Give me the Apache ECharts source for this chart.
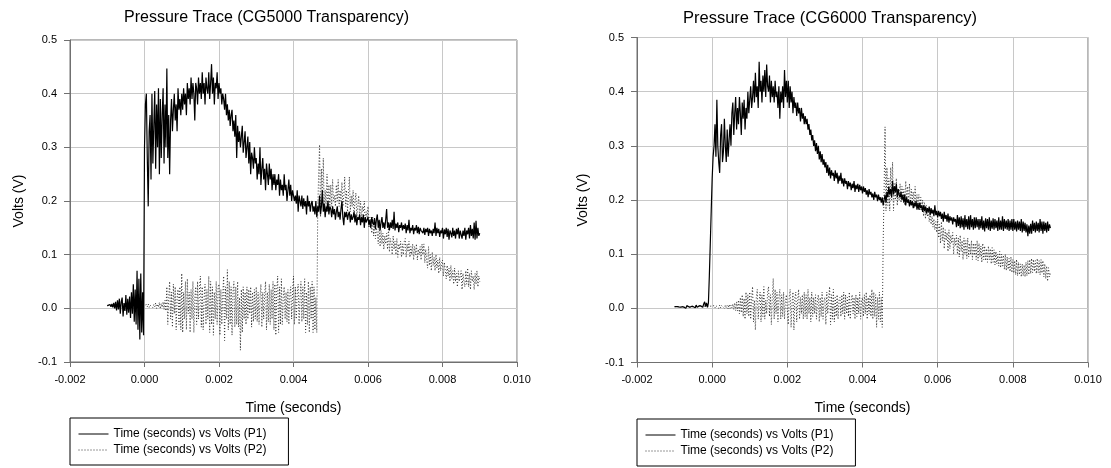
<!DOCTYPE html>
<html><head><meta charset="utf-8">
<script src="https://cdn.jsdelivr.net/npm/echarts@6/dist/echarts.min.js"></script>
<style>html,body{margin:0;padding:0;background:#fff}#c{width:1111px;height:468px}</style>
</head><body><div id="c"></div>
<script>
// sample times: start and step (seconds)
const timeStart = -0.001;
const timeStep = 0.000025;

const xTickLabels = ['-0.002','0.000','0.002','0.004','0.006','0.008','0.010'];
const yTickLabels = ['-0.1','0.0','0.1','0.2','0.3','0.4','0.5'];
const titles = ['Pressure Trace (CG5000 Transparency)', 'Pressure Trace (CG6000 Transparency)'];
const seriesNames = ['Time (seconds) vs Volts (P1)', 'Time (seconds) vs Volts (P2)'];

// CG5000, P1 (volts), one row = 0.0005 s
const cg5000P1 = [
0.005,0.006,0.004,0.007,0.003,0.008,0.002,0.010,0.000,0.012,-0.004,0.015,-0.002,0.018,-0.010,0.012,0.020,-0.015,0.010,-0.005,
0.025,-0.012,0.018,-0.008,0.022,-0.018,0.030,-0.010,0.045,-0.025,0.035,-0.030,0.070,-0.040,0.055,-0.058,0.065,-0.045,0.030,-0.050,
0.30,0.38,0.40,0.28,0.19,0.33,0.36,0.24,0.40,0.27,0.34,0.405,0.26,0.38,0.30,0.41,0.25,0.39,0.28,0.36,
0.41,0.27,0.38,0.30,0.447,0.28,0.36,0.25,0.35,0.39,0.33,0.37,0.40,0.35,0.38,0.33,0.41,0.37,0.39,0.36,
0.40,0.37,0.41,0.38,0.40,0.36,0.42,0.39,0.41,0.38,0.43,0.39,0.42,0.40,0.35,0.42,0.41,0.38,0.43,0.40,
0.42,0.39,0.44,0.40,0.42,0.38,0.43,0.41,0.40,0.44,0.39,0.42,0.455,0.40,0.43,0.38,0.42,0.41,0.44,0.39,
0.42,0.40,0.41,0.38,0.40,0.39,0.37,0.40,0.36,0.38,0.35,0.37,0.34,0.36,0.37,0.33,0.35,0.32,0.36,0.28,
0.34,0.31,0.33,0.30,0.32,0.34,0.29,0.31,0.33,0.28,0.30,0.32,0.27,0.31,0.25,0.29,0.28,0.26,0.30,0.27,
0.28,0.24,0.27,0.25,0.30,0.23,0.26,0.28,0.24,0.26,0.22,0.27,0.25,0.23,0.27,0.24,0.26,0.22,0.25,0.23,
0.25,0.22,0.24,0.23,0.25,0.21,0.24,0.22,0.23,0.21,0.25,0.22,0.23,0.20,0.22,0.24,0.21,0.23,0.20,0.22,
0.22,0.20,0.21,0.195,0.22,0.18,0.21,0.20,0.19,0.21,0.185,0.205,0.19,0.20,0.175,0.21,0.19,0.20,0.18,0.195,
0.20,0.18,0.19,0.175,0.20,0.17,0.19,0.18,0.21,0.175,0.19,0.22,0.18,0.195,0.17,0.19,0.18,0.20,0.175,0.19,
0.185,0.17,0.19,0.175,0.185,0.165,0.18,0.19,0.17,0.18,0.165,0.185,0.20,0.17,0.155,0.18,0.17,0.18,0.165,0.175,
0.18,0.16,0.175,0.165,0.17,0.18,0.16,0.175,0.155,0.17,0.165,0.175,0.155,0.17,0.16,0.175,0.15,0.17,0.16,0.165,
0.17,0.155,0.165,0.15,0.17,0.16,0.155,0.168,0.148,0.165,0.175,0.15,0.165,0.145,0.16,0.17,0.15,0.16,0.148,0.165,
0.185,0.15,0.16,0.145,0.16,0.15,0.165,0.148,0.18,0.145,0.158,0.15,0.16,0.142,0.155,0.15,0.16,0.145,0.155,0.148,
0.158,0.14,0.155,0.145,0.165,0.14,0.15,0.145,0.155,0.138,0.15,0.145,0.155,0.14,0.152,0.138,0.15,0.145,0.148,0.14,
0.15,0.137,0.148,0.142,0.15,0.135,0.148,0.14,0.145,0.135,0.148,0.14,0.16,0.135,0.15,0.14,0.148,0.133,0.145,0.14,
0.15,0.13,0.147,0.138,0.15,0.133,0.148,0.128,0.145,0.14,0.132,0.15,0.135,0.145,0.13,0.148,0.138,0.15,0.13,0.145,
0.148,0.13,0.145,0.135,0.15,0.128,0.145,0.138,0.15,0.13,0.155,0.135,0.148,0.13,0.16,0.128,0.163,0.13,0.15,0.135,
0.14
];
// CG5000, P2
const cg5000P2 = [
0.005,0.004,0.006,0.005,0.004,0.006,0.005,0.005,0.004,0.006,0.005,0.006,0.004,0.005,0.006,0.004,0.005,0.006,0.004,0.005,
0.005,0.006,0.004,0.005,0.006,0.004,0.005,0.006,0.004,0.005,0.006,0.004,0.005,0.006,0.004,0.005,0.006,0.004,0.005,0.005,
0.006,0.004,0.007,0.003,0.008,0.002,0.006,0.004,0.009,0.001,0.007,0.003,0.010,0.000,0.008,0.002,0.011,-0.001,0.009,0.002,
0.012,-0.002,0.015,-0.005,0.04,-0.03,0.02,0.05,-0.02,0.03,-0.035,0.045,-0.01,0.04,-0.04,0.02,0.035,-0.03,0.04,-0.04,
0.065,-0.045,0.03,-0.02,0.05,-0.04,0.055,-0.01,0.03,-0.045,0.035,-0.02,0.05,-0.045,0.02,0.04,-0.03,0.05,-0.02,0.035,
0.06,-0.035,0.04,-0.04,0.02,0.045,-0.03,0.035,-0.02,0.06,-0.045,0.05,-0.03,0.04,-0.05,0.03,-0.02,0.05,-0.03,0.04,
0.045,-0.05,0.035,-0.03,0.025,0.06,-0.06,0.04,-0.02,0.072,-0.04,0.05,-0.03,0.04,-0.05,0.03,0.05,-0.035,0.04,-0.03,
0.05,-0.035,0.02,-0.078,0.035,-0.045,0.04,-0.02,0.03,-0.03,0.04,-0.02,0.035,-0.01,0.04,-0.035,0.03,-0.025,0.035,-0.02,
0.04,-0.025,0.03,-0.03,0.02,0.045,-0.035,0.03,-0.02,0.025,0.05,-0.04,0.03,-0.025,0.045,-0.03,0.035,-0.02,0.05,-0.04,
0.045,-0.05,0.035,0.06,-0.045,0.04,-0.03,0.055,-0.03,0.02,0.04,-0.02,0.03,-0.025,0.035,-0.03,0.025,0.04,-0.02,0.03,
0.06,-0.03,0.04,-0.02,0.03,0.045,-0.03,0.02,0.05,-0.025,0.04,-0.02,0.055,-0.045,0.03,-0.03,0.05,-0.045,0.04,-0.02,
0.05,-0.045,0.04,-0.04,0.02,-0.045,0.18,0.25,0.305,0.17,0.26,0.20,0.28,0.18,0.22,0.19,0.25,0.18,0.23,0.19,
0.23,0.19,0.24,0.20,0.21,0.19,0.23,0.20,0.24,0.19,0.22,0.20,0.235,0.19,0.21,0.245,0.19,0.22,0.18,0.21,
0.245,0.18,0.21,0.19,0.22,0.17,0.20,0.215,0.17,0.19,0.21,0.17,0.20,0.165,0.19,0.18,0.20,0.16,0.18,0.17,
0.19,0.15,0.17,0.16,0.14,0.17,0.135,0.16,0.13,0.15,0.14,0.12,0.155,0.115,0.145,0.12,0.14,0.11,0.135,0.12,
0.14,0.11,0.15,0.105,0.13,0.12,0.10,0.135,0.11,0.125,0.10,0.13,0.095,0.12,0.11,0.125,0.095,0.12,0.10,0.125,
0.13,0.095,0.12,0.105,0.125,0.095,0.115,0.10,0.12,0.09,0.115,0.10,0.12,0.09,0.11,0.10,0.115,0.09,0.12,0.10,
0.12,0.085,0.11,0.09,0.075,0.115,0.08,0.10,0.07,0.105,0.08,0.095,0.07,0.10,0.075,0.09,0.065,0.095,0.07,0.085,
0.09,0.06,0.085,0.07,0.055,0.08,0.06,0.075,0.05,0.08,0.055,0.07,0.045,0.075,0.05,0.065,0.04,0.07,0.05,0.06,
0.07,0.035,0.065,0.05,0.04,0.07,0.045,0.075,0.04,0.065,0.035,0.07,0.05,0.06,0.035,0.065,0.045,0.07,0.04,0.06,
0.05
];
// CG6000, P1
const cg6000P1 = [
0.003,0.002,0.004,0.003,0.001,0.004,0.002,0.005,0.002,0.003,0.001,0.004,0.000,0.005,0.002,0.004,0.002,0.003,0.001,0.004,
0.002,0.005,0.001,0.006,0.002,0.004,0.001,0.005,0.003,0.006,0.002,0.008,0.012,0.003,0.010,0.002,0.010,0.06,0.12,0.18,
0.24,0.28,0.30,0.34,0.28,0.385,0.30,0.27,0.25,0.32,0.34,0.27,0.29,0.35,0.30,0.27,0.33,0.28,0.31,0.34,
0.30,0.36,0.38,0.32,0.36,0.39,0.33,0.37,0.34,0.39,0.36,0.32,0.38,0.35,0.385,0.33,0.37,0.35,0.40,0.36,
0.36,0.41,0.37,0.39,0.42,0.38,0.435,0.39,0.41,0.37,0.455,0.40,0.42,0.38,0.43,0.40,0.44,0.39,0.45,0.41,
0.40,0.43,0.38,0.42,0.39,0.41,0.38,0.42,0.39,0.40,0.37,0.41,0.35,0.40,0.38,0.41,0.37,0.44,0.39,0.42,
0.38,0.42,0.37,0.41,0.38,0.40,0.36,0.39,0.37,0.38,0.355,0.38,0.36,0.37,0.345,0.37,0.35,0.36,0.34,0.355,
0.34,0.35,0.33,0.34,0.32,0.33,0.31,0.32,0.30,0.31,0.29,0.305,0.285,0.30,0.275,0.29,0.27,0.285,0.265,0.275,
0.26,0.27,0.25,0.265,0.245,0.26,0.24,0.255,0.245,0.25,0.235,0.255,0.24,0.25,0.23,0.245,0.235,0.25,0.23,0.24,
0.225,0.24,0.23,0.235,0.22,0.235,0.225,0.232,0.218,0.23,0.222,0.235,0.215,0.228,0.22,0.23,0.215,0.228,0.218,0.225,
0.212,0.225,0.215,0.222,0.21,0.218,0.205,0.22,0.21,0.215,0.205,0.212,0.20,0.215,0.205,0.21,0.198,0.21,0.20,0.205,
0.195,0.205,0.19,0.20,0.21,0.195,0.215,0.205,0.225,0.21,0.22,0.205,0.235,0.21,0.225,0.215,0.23,0.205,0.22,0.21,
0.205,0.215,0.20,0.21,0.195,0.21,0.19,0.205,0.195,0.20,0.188,0.20,0.19,0.198,0.185,0.195,0.188,0.198,0.182,0.195,
0.182,0.195,0.185,0.19,0.178,0.19,0.18,0.188,0.175,0.185,0.178,0.188,0.172,0.185,0.175,0.182,0.17,0.19,0.172,0.18,
0.168,0.18,0.17,0.178,0.165,0.175,0.16,0.178,0.165,0.172,0.16,0.175,0.158,0.17,0.162,0.168,0.155,0.168,0.16,0.165,
0.15,0.172,0.152,0.168,0.148,0.17,0.15,0.166,0.145,0.172,0.15,0.165,0.146,0.17,0.145,0.172,0.15,0.165,0.145,0.168,
0.148,0.168,0.15,0.165,0.145,0.165,0.148,0.17,0.145,0.162,0.142,0.166,0.148,0.165,0.145,0.168,0.143,0.162,0.147,0.166,
0.145,0.165,0.148,0.162,0.143,0.168,0.145,0.162,0.145,0.17,0.143,0.165,0.147,0.162,0.145,0.165,0.143,0.162,0.145,0.165,
0.143,0.165,0.145,0.16,0.142,0.162,0.145,0.16,0.143,0.165,0.14,0.16,0.143,0.158,0.14,0.155,0.133,0.153,0.138,0.156,
0.138,0.162,0.143,0.158,0.14,0.16,0.143,0.158,0.14,0.165,0.143,0.16,0.138,0.16,0.143,0.158,0.14,0.16,0.143,0.155,
0.148
];
// CG6000, P2
const cg6000P2 = [
0.003,0.003,0.004,0.003,0.002,0.004,0.003,0.003,0.004,0.002,0.003,0.004,0.003,0.002,0.004,0.003,0.003,0.004,0.002,0.003,
0.003,0.004,0.002,0.003,0.004,0.003,0.002,0.004,0.003,0.003,0.004,0.002,0.003,0.004,0.003,0.002,0.004,0.003,0.003,0.004,
0.004,0.002,0.005,0.001,0.005,0.002,0.004,0.000,0.006,0.001,0.005,0.002,0.004,0.000,0.006,0.001,0.005,-0.001,0.007,0.000,
0.006,0.001,0.008,-0.002,0.010,-0.004,0.012,-0.005,0.015,-0.01,0.02,-0.008,0.025,-0.015,0.018,-0.02,0.03,-0.01,0.025,-0.015,
0.03,-0.02,0.02,0.04,-0.025,0.015,-0.04,0.02,0.035,-0.02,0.01,0.03,-0.025,0.025,-0.015,0.04,-0.02,0.015,-0.01,0.03,
0.04,-0.015,0.025,-0.03,0.02,0.055,-0.02,0.035,-0.01,0.03,-0.025,0.02,0.035,-0.02,0.025,-0.015,0.03,-0.02,0.015,0.025,
0.025,-0.03,0.02,0.035,-0.035,0.01,0.03,-0.04,0.02,0.03,-0.025,0.015,0.035,-0.02,0.02,-0.01,0.025,-0.02,0.03,-0.015,
0.025,-0.02,0.035,-0.01,0.02,-0.025,0.03,-0.015,0.02,-0.01,0.025,-0.02,0.015,0.025,-0.025,0.02,-0.015,0.03,-0.02,0.015,
0.02,-0.03,0.03,-0.01,0.02,0.04,-0.03,0.025,-0.02,0.035,-0.025,0.02,-0.015,0.025,-0.02,0.015,0.02,-0.015,0.025,-0.01,
0.03,-0.02,0.025,-0.01,0.02,-0.015,0.03,-0.02,0.015,0.025,-0.01,0.02,-0.02,0.025,-0.015,0.02,-0.01,0.03,-0.02,0.015,
0.02,-0.015,0.025,-0.01,0.03,-0.02,0.02,-0.01,0.025,-0.015,0.035,-0.02,0.03,-0.015,0.025,-0.035,0.02,-0.02,0.03,-0.025,
0.02,-0.035,0.12,0.22,0.335,0.18,0.26,0.19,0.24,0.18,0.26,0.20,0.27,0.18,0.23,0.20,0.24,0.19,0.22,0.20,
0.23,0.195,0.225,0.20,0.22,0.19,0.235,0.20,0.225,0.195,0.23,0.19,0.22,0.20,0.215,0.185,0.225,0.19,0.21,0.19,
0.21,0.18,0.205,0.18,0.20,0.17,0.195,0.165,0.19,0.17,0.18,0.16,0.175,0.155,0.17,0.15,0.165,0.145,0.16,0.14,
0.165,0.13,0.155,0.12,0.16,0.125,0.15,0.11,0.145,0.125,0.14,0.105,0.145,0.11,0.135,0.12,0.14,0.10,0.13,0.115,
0.135,0.10,0.13,0.095,0.135,0.105,0.125,0.09,0.13,0.10,0.125,0.092,0.13,0.095,0.12,0.10,0.125,0.09,0.12,0.098,
0.12,0.09,0.125,0.088,0.12,0.095,0.115,0.085,0.12,0.09,0.115,0.088,0.11,0.085,0.115,0.09,0.11,0.082,0.112,0.085,
0.108,0.08,0.105,0.082,0.10,0.078,0.105,0.075,0.10,0.078,0.098,0.072,0.10,0.07,0.095,0.072,0.092,0.068,0.095,0.066,
0.09,0.065,0.088,0.062,0.09,0.06,0.085,0.062,0.082,0.058,0.082,0.06,0.08,0.058,0.085,0.06,0.088,0.062,0.09,0.064,
0.092,0.066,0.09,0.068,0.088,0.064,0.092,0.066,0.088,0.062,0.09,0.065,0.088,0.058,0.082,0.055,0.078,0.05,0.075,0.058,
0.065
];

function pairs(vals) {
  return vals.map((v, i) => [+(timeStart + i * timeStep).toFixed(7), v]);
}

const FONT = "'Liberation Sans', Arial, sans-serif";
const xMin = parseFloat(xTickLabels[0]), xMax = parseFloat(xTickLabels[xTickLabels.length - 1]);
const yMin = parseFloat(yTickLabels[0]), yMax = parseFloat(yTickLabels[yTickLabels.length - 1]);
const xStep = 0.002, yStep = 0.1;

function xAxisCfg(gi) {
  return {
    gridIndex: gi, type: 'value', min: xMin, max: xMax, interval: xStep,
    name: 'Time (seconds)', nameLocation: 'middle', nameGap: 39,
    nameTextStyle: { fontSize: 14, color: '#000', fontFamily: FONT },
    axisLine: { show: true, onZero: false, lineStyle: { color: '#707070', width: 1 } },
    axisTick: { show: true, inside: false, length: 5, lineStyle: { color: '#707070' } },
    axisLabel: { fontSize: 11, color: '#000', fontFamily: FONT, margin: 12,
      formatter: v => xTickLabels[Math.round((v - xMin) / xStep)] },
    splitLine: { show: true, lineStyle: { color: '#c8c8c8', width: 1 } }
  };
}
function yAxisCfg(gi, gap) {
  return {
    gridIndex: gi, type: 'value', min: yMin, max: yMax, interval: yStep,
    name: 'Volts (V)', nameLocation: 'middle', nameGap: gap,
    nameTextStyle: { fontSize: 14, color: '#000', fontFamily: FONT },
    axisLine: { show: true, onZero: false, lineStyle: { color: '#707070', width: 1 } },
    axisTick: { show: true, inside: false, length: 6, lineStyle: { color: '#707070' } },
    axisLabel: { fontSize: 11, color: '#000', fontFamily: FONT, margin: 13,
      formatter: v => yTickLabels[Math.round((v - yMin) / yStep)] },
    splitLine: { show: true, lineStyle: { color: '#c8c8c8', width: 1 } }
  };
}
function lineSeries(name, gi, vals, dotted) {
  return {
    name: name, type: 'line', xAxisIndex: gi, yAxisIndex: gi,
    data: pairs(vals), symbol: 'none', showSymbol: false, animation: false,
    z: dotted ? 2 : 3,
    lineStyle: { color: dotted ? '#333' : '#000', width: dotted ? 1 : 1.2, type: dotted ? [1, 2] : 'solid' },
    itemStyle: { color: dotted ? '#333' : '#000' }
  };
}
function legendCfg(left, top) {
  return {
    data: seriesNames, orient: 'vertical', left: left, top: top,
    borderColor: '#000', borderWidth: 1, padding: [10, 22, 9, 8],
    itemWidth: 30, itemHeight: 14, itemGap: 4,
    itemStyle: { opacity: 0 },
    lineStyle: { width: 1 },
    textStyle: { fontSize: 12, color: '#000', fontFamily: FONT },
    selectedMode: false
  };
}

const chart = echarts.init(document.getElementById('c'), null, { renderer: 'canvas' });
chart.setOption({
  backgroundColor: '#fff',
  animation: false,
  title: [
    { text: titles[0], left: 119, top: 5, textStyle: { fontSize: 16, fontWeight: 'normal', color: '#000', fontFamily: FONT } },
    { text: titles[1], left: 678, top: 5, textStyle: { fontSize: 16.5, fontWeight: 'normal', color: '#000', fontFamily: FONT } }
  ],
  grid: [
    { left: 70, top: 40, width: 447, height: 322, show: true, borderColor: '#707070', borderWidth: 1 },
    { left: 637, top: 37.5, width: 451, height: 325, show: true, borderColor: '#707070', borderWidth: 1 }
  ],
  xAxis: [xAxisCfg(0), xAxisCfg(1)],
  yAxis: [yAxisCfg(0, 44), yAxisCfg(1, 47)],
  legend: [legendCfg(70, 418), legendCfg(637, 419)],
  series: [
    lineSeries(seriesNames[1], 0, cg5000P2, true),
    lineSeries(seriesNames[0], 0, cg5000P1, false),
    lineSeries(seriesNames[1], 1, cg6000P2, true),
    lineSeries(seriesNames[0], 1, cg6000P1, false)
  ]
});
</script>
</body></html>
